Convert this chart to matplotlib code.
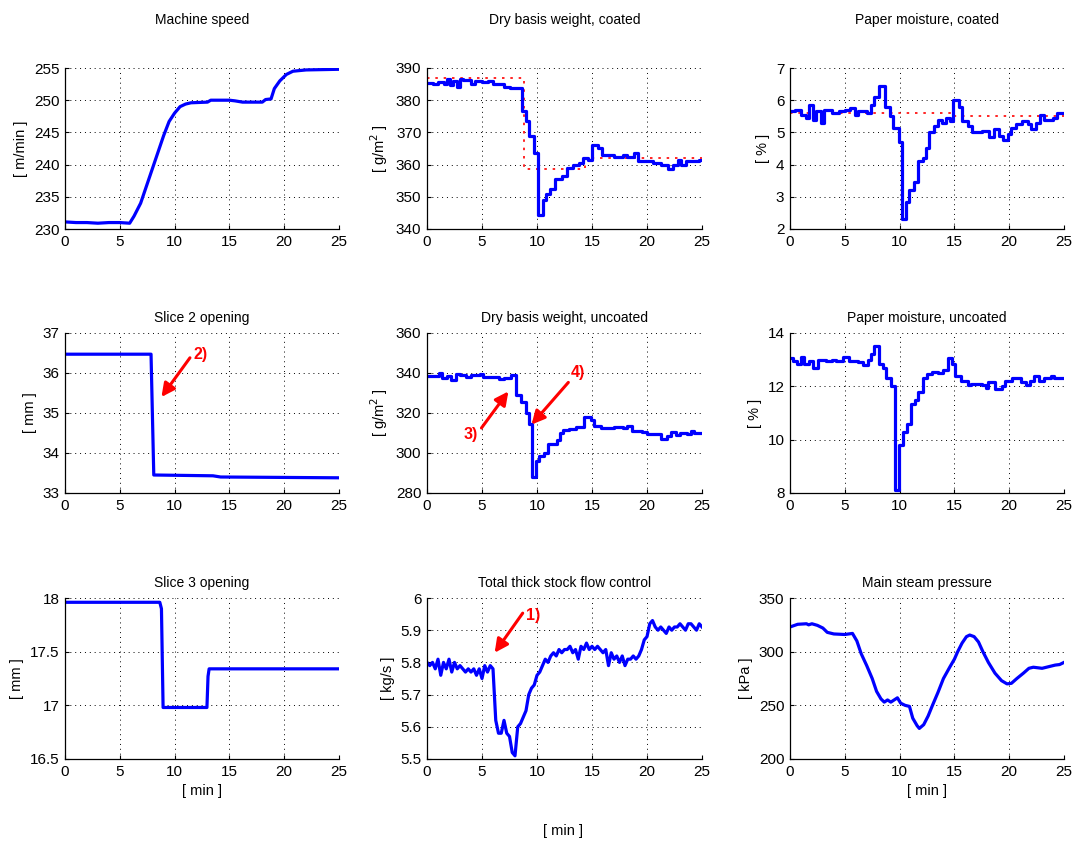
import numpy as np
import matplotlib.pyplot as plt
from matplotlib.ticker import FormatStrFormatter

plt.rcParams['font.family'] = ['Liberation Sans', 'DejaVu Sans']

# ---- data (time in min) ----
speed_t = [0, 1, 2, 3, 4, 5, 5.9, 6.3, 6.9, 7.4, 8.0, 8.5, 9.0, 9.5, 10, 10.5, 11, 11.5, 13,
           13.3, 15, 15.5, 16.2, 18, 18.3, 18.8, 19.1, 19.6, 20.2, 20.8, 22, 25]
speed = [231.1, 231.0, 231.0, 230.9, 231.0, 231.0, 230.9, 232.0, 234.0, 236.5, 239.5, 242, 244.5,
         246.7, 248, 249, 249.4, 249.6, 249.7, 250, 250, 249.9, 249.7, 249.7, 250.1, 250.2, 251.8,
         253, 254, 254.5, 254.7, 254.8]

bwc_t = [0, 0.5, 1, 1.5, 1.8, 2.1, 2.4, 2.7, 3.0, 3.3, 4.0, 4.4, 5.0, 5.5, 6.0, 7.0, 7.5, 8.6, 9.0, 9.3,
         9.7, 10.05, 10.5, 10.85, 11.2, 11.6, 12.3, 12.7, 13.3, 13.8, 14.2, 14.6, 15.0, 15.5, 15.9,
         17.0, 17.8, 18.2, 18.8, 19.2, 19.6, 20.5, 21.3, 21.9, 22.4, 22.8, 23.1, 23.5, 24.0, 24.7, 25]
bwc = [385.3, 385.0, 385.8, 385.0, 386.5, 384.8, 386.0, 384.0, 386.5, 386.3, 385.0, 386.0, 385.8,
       386.0, 385.0, 384.0, 383.7, 376.5, 373.5, 369.0, 363.5, 344.5, 349.0, 351.0, 352.5, 355.5,
       356.5, 359.0, 360.0, 360.5, 362.0, 361.5, 366.0, 365.2, 363.0, 362.5, 363.0, 362.5, 363.5,
       361.0, 361.0, 360.5, 359.8, 358.5, 360.0, 361.5, 360.0, 361.0, 361.0, 361.5, 361.5]
bwc_sp_t = [0, 8.8, 8.8, 14.4, 14.4, 25]
bwc_sp = [387, 387, 358.5, 358.5, 362, 362]

moc_t = [0, 0.5, 1.0, 1.5, 1.7, 2.1, 2.4, 2.8, 3.1, 3.8, 4.5, 5.0, 5.5, 5.9, 6.2, 7.0, 7.4, 7.7, 8.15,
         8.65, 9.1, 9.4, 9.9, 10.2, 10.6, 10.9, 11.3, 11.7, 12.1, 12.4, 12.7, 13.1, 13.5, 13.9, 14.2,
         14.6, 14.9, 15.4, 15.7, 16.2, 16.6, 17.5, 18.2, 18.6, 19.1, 19.4, 19.9, 20.2, 20.6, 21.2,
         21.7, 22.0, 22.4, 22.8, 23.2, 24.0, 24.4, 25]
moc = [5.65, 5.7, 5.55, 5.45, 5.85, 5.4, 5.65, 5.3, 5.7, 5.6, 5.65, 5.7, 5.75, 5.55, 5.65, 5.6, 5.85,
       6.1, 6.45, 5.8, 5.5, 5.15, 4.7, 2.3, 2.85, 3.2, 3.45, 4.1, 4.2, 4.5, 5.0, 5.2, 5.4, 5.3, 5.45,
       5.35, 6.0, 5.8, 5.35, 5.2, 5.0, 5.05, 4.85, 5.1, 4.9, 4.75, 4.95, 5.15, 5.25, 5.35, 5.25, 5.1,
       5.3, 5.55, 5.4, 5.45, 5.6, 5.6]
moc_sp_t = [0, 15, 15, 25]
moc_sp = [5.6, 5.6, 5.5, 5.5]

slice2_t = [0, 7.85, 8.1, 13.5, 14.2, 25]
slice2 = [36.47, 36.47, 33.45, 33.43, 33.40, 33.38]

bwu_t = [0, 1.1, 1.4, 1.8, 2.2, 2.6, 3.0, 3.5, 4.0, 4.8, 5.1, 6.5, 7.0, 7.6, 8.05, 8.5, 9.0, 9.3, 9.5,
         9.9, 10.2, 10.6, 11.0, 11.8, 12.1, 12.4, 12.9, 13.5, 14.3, 14.9, 15.2, 15.8, 17.0, 17.8,
         18.2, 18.6, 19.5, 20.0, 21.3, 21.8, 22.2, 22.6, 23.0, 23.6, 24.0, 24.3, 25]
bwu = [338.5, 340, 337.5, 338.5, 336.5, 339.5, 338.8, 338.2, 339, 339.5, 338, 336.8, 337.5, 338.8,
       329, 325.5, 320, 314.5, 288, 296, 298.5, 300, 304.5, 306.5, 310, 311.5, 312, 313, 318, 316.5,
       313.5, 312.5, 313, 312.5, 313.5, 311, 310.5, 309.5, 307, 308.5, 310.5, 309, 310, 309.5, 311,
       310, 310]

mou_t = [0, 0.3, 0.6, 1.0, 1.3, 1.7, 2.1, 2.6, 3.3, 3.8, 4.2, 4.8, 5.4, 6.2, 6.7, 7.1, 7.4, 7.7, 8.1,
         8.5, 8.8, 9.2, 9.6, 9.9, 10.3, 10.7, 11.0, 11.4, 11.7, 12.1, 12.5, 13.0, 13.5, 14.0, 14.4,
         14.8, 15.1, 15.6, 16.2, 16.5, 17.5, 17.9, 18.1, 18.7, 19.3, 19.6, 20.3, 21.1, 21.5, 21.9,
         22.3, 22.7, 23.2, 23.8, 24.1, 25]
mou = [13.05, 12.95, 12.85, 13.1, 12.85, 12.95, 12.7, 13.0, 12.95, 13.0, 12.95, 13.1, 12.95, 12.9,
       12.8, 13.0, 13.2, 13.5, 12.85, 12.7, 12.3, 12.0, 8.1, 9.8, 10.3, 10.6, 11.35, 11.5, 11.8, 12.3,
       12.45, 12.55, 12.5, 12.6, 13.05, 12.85, 12.4, 12.2, 12.05, 12.1, 12.05, 11.95, 12.15, 11.9,
       12.0, 12.2, 12.3, 12.15, 12.05, 12.2, 12.4, 12.2, 12.3, 12.4, 12.3, 12.3]

slice3_t = [0, 8.65, 8.8, 8.95, 12.95, 13.05, 13.15, 25]
slice3 = [17.96, 17.96, 17.9, 16.98, 16.98, 17.27, 17.34, 17.34]

flow_t = np.arange(0, 25.01, 0.25)
flow = [5.80, 5.79, 5.80, 5.78, 5.81, 5.76, 5.80, 5.78, 5.81, 5.77, 5.80, 5.78, 5.79, 5.78, 5.77,
        5.78, 5.77, 5.78, 5.76, 5.78, 5.75, 5.79, 5.77, 5.79, 5.78, 5.62, 5.58, 5.58, 5.62, 5.58,
        5.57, 5.52, 5.51, 5.60, 5.61, 5.63, 5.65, 5.70, 5.72, 5.73, 5.76, 5.77, 5.79, 5.81, 5.80,
        5.82, 5.83, 5.82, 5.84, 5.83, 5.84, 5.84, 5.85, 5.83, 5.84, 5.81, 5.85, 5.84, 5.86, 5.84,
        5.85, 5.84, 5.85, 5.84, 5.83, 5.84, 5.79, 5.83, 5.81, 5.82, 5.80, 5.82, 5.79, 5.81, 5.81,
        5.82, 5.81, 5.82, 5.84, 5.87, 5.88, 5.92, 5.93, 5.91, 5.90, 5.91, 5.90, 5.89, 5.91, 5.90,
        5.91, 5.91, 5.92, 5.91, 5.90, 5.92, 5.92, 5.91, 5.90, 5.92, 5.91]

steam_t = [0, 0.7, 1.5, 1.7, 2.0, 2.5, 3.0, 3.4, 4.0, 5.0, 5.7, 6.1, 6.5, 7.0, 7.5, 7.9, 8.3, 8.6, 8.9,
           9.2, 9.5, 9.8, 10.1, 10.5, 10.9, 11.2, 11.6, 11.8, 12.2, 12.6, 13.0, 13.5, 14.0, 14.6,
           15.0, 15.3, 15.7, 16.1, 16.4, 16.8, 17.2, 17.6, 18.1, 18.7, 19.3, 19.8, 20.2, 20.7, 21.3,
           21.8, 22.2, 22.6, 23.0, 23.6, 24.2, 24.6, 25]
steam = [323, 325.5, 326, 325, 326, 324.5, 322, 318, 316.5, 316, 317, 310, 298, 287, 275, 263, 256,
         253, 255, 253, 255, 257, 252, 250, 249, 238, 231, 228.5, 232, 240, 250, 262, 275, 286, 293,
         300, 308, 314, 315.5, 314, 309, 300, 290, 280, 273, 270, 270.5, 275, 280, 284.5, 285.5, 285,
         284.5, 286, 287.5, 288, 290]

W, H = 1078, 841
fig = plt.figure(figsize=(W / 100, H / 100), dpi=100)

lefts = [65, 427, 790]
rights = [339, 702, 1064]
tops = [68, 333, 598]
bottoms = [229, 493, 759]
title_y = [20, 318, 583]

panels = [
    (0, 0, "Machine speed", "[ m/min ]", (230, 255), np.arange(230, 256, 5)),
    (0, 1, "Dry basis weight, coated", "[ g/m$^2$ ]", (340, 390), np.arange(340, 391, 10)),
    (0, 2, "Paper moisture, coated", "[ % ]", (2, 7), np.arange(2, 8, 1)),
    (1, 0, "Slice 2 opening", "[ mm ]", (33, 37), np.arange(33, 38, 1)),
    (1, 1, "Dry basis weight, uncoated", "[ g/m$^2$ ]", (280, 360), np.arange(280, 361, 20)),
    (1, 2, "Paper moisture, uncoated", "[ % ]", (8, 14), np.arange(8, 15, 2)),
    (2, 0, "Slice 3 opening", "[ mm ]", (16.5, 18), np.arange(16.5, 18.01, 0.5)),
    (2, 1, "Total thick stock flow control", "[ kg/s ]", (5.5, 6), np.arange(5.5, 6.01, 0.1)),
    (2, 2, "Main steam pressure", "[ kPa ]", (200, 350), np.arange(200, 351, 50)),
]

axes = {}
for r, c, title, ylab, ylim, yticks in panels:
    l, rt, tp, bt = lefts[c], rights[c], tops[r], bottoms[r]
    ax = fig.add_axes([l / W, 1 - bt / H, (rt - l) / W, (bt - tp) / H])
    ax.set_xlim(0, 25)
    ax.set_ylim(*ylim)
    ax.set_xticks(np.arange(0, 26, 5))
    ax.set_yticks(yticks)
    ax.yaxis.set_major_formatter(FormatStrFormatter('%g'))
    ax.tick_params(direction='in', length=3, width=0.8, labelsize=11, pad=4,
                   top=False, right=False)
    for s in ['top', 'right']:
        ax.spines[s].set_visible(False)
    for s in ['left', 'bottom']:
        ax.spines[s].set_linewidth(0.9)
    ax.grid(True, color='black', linestyle=(0, (1, 4)), linewidth=0.7)
    ax.set_ylabel(ylab, fontsize=10.5)
    fig.text((l + rt) / 2 / W, 1 - title_y[r] / H, title, ha='center', va='center', fontsize=10)
    axes[(r, c)] = ax

blue = dict(color='blue', linewidth=2.3)
red_dot = dict(color='red', linestyle=(0, (1.5, 3.5)), linewidth=1.2)

axes[(0, 0)].plot(speed_t, speed, **blue)

axes[(0, 1)].plot(bwc_sp_t, bwc_sp, **red_dot)
axes[(0, 1)].plot(bwc_t, bwc, drawstyle='steps-post', **blue)

axes[(0, 2)].plot(moc_sp_t, moc_sp, **red_dot)
axes[(0, 2)].plot(moc_t, moc, drawstyle='steps-post', **blue)

axes[(1, 0)].plot(slice2_t, slice2, **blue)
axes[(1, 1)].plot(bwu_t, bwu, drawstyle='steps-post', **blue)
axes[(1, 2)].plot(mou_t, mou, drawstyle='steps-post', **blue)
axes[(2, 0)].plot(slice3_t, slice3, **blue)
axes[(2, 1)].plot(flow_t, flow, **blue)
axes[(2, 2)].plot(steam_t, steam, **blue)

# annotations
arrow = dict(arrowstyle='-|>', color='red', lw=2.2, mutation_scale=20, shrinkA=0, shrinkB=0)
def note(ax, label, tail, head, text_xy, ha='left'):
    ax.annotate('', xy=head, xytext=tail, arrowprops=arrow)
    ax.text(*text_xy, label, color='red', fontweight='bold', fontsize=11.5, ha=ha, va='center')

note(axes[(1, 0)], '2)', (11.4, 36.38), (8.8, 35.4), (11.7, 36.45))
note(axes[(1, 1)], '3)', (4.95, 312.5), (7.4, 330.8), (4.6, 309.2), ha='right')
note(axes[(1, 1)], '4)', (12.85, 335.3), (9.5, 314.2), (13.1, 340))
note(axes[(2, 1)], '1)', (8.7, 5.953), (6.15, 5.83), (9.0, 5.945))

axes[(2, 0)].set_xlabel('[ min ]', fontsize=10.5)
axes[(2, 2)].set_xlabel('[ min ]', fontsize=10.5)
fig.text(563 / W, 1 - 831 / H, '[ min ]', ha='center', va='center', fontsize=10.5)

fig.savefig('out.png', dpi=100)
